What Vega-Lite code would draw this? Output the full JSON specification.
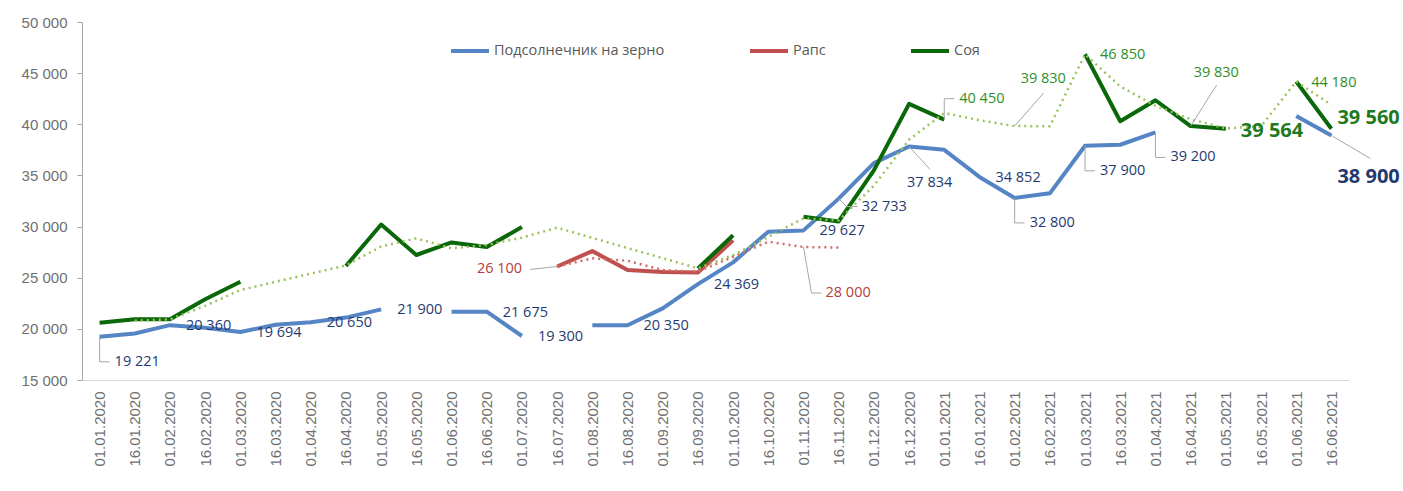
{
  "$schema": "https://vega.github.io/schema/vega-lite/v6.json",
  "width": 1267,
  "height": 358,
  "autosize": {"type": "none"},
  "padding": {"left": 82, "top": 22, "right": 54, "bottom": 111},
  "background": "white",
  "config": {
    "view": {"stroke": null},
    "locale": {"number": {"decimal": ",", "thousands": "\u00a0", "grouping": [3], "currency": ["", "\u00a0₽"]}},
    "text": {"font": "Open Sans", "fontSize": 14.5, "baseline": "middle", "align": "left"}
  },
  "datasets": {
    "main": [
      {"d": "01.01.2020", "s": "Подсолнечник на зерно", "v": 19221},
      {"d": "16.01.2020", "s": "Подсолнечник на зерно", "v": 19550},
      {"d": "01.02.2020", "s": "Подсолнечник на зерно", "v": 20360},
      {"d": "16.02.2020", "s": "Подсолнечник на зерно", "v": 20100},
      {"d": "01.03.2020", "s": "Подсолнечник на зерно", "v": 19694},
      {"d": "16.03.2020", "s": "Подсолнечник на зерно", "v": 20400},
      {"d": "01.04.2020", "s": "Подсолнечник на зерно", "v": 20650},
      {"d": "16.04.2020", "s": "Подсолнечник на зерно", "v": 21100},
      {"d": "01.05.2020", "s": "Подсолнечник на зерно", "v": 21900},
      {"d": "16.05.2020", "s": "Подсолнечник на зерно", "v": null},
      {"d": "01.06.2020", "s": "Подсолнечник на зерно", "v": 21675},
      {"d": "16.06.2020", "s": "Подсолнечник на зерно", "v": 21675},
      {"d": "01.07.2020", "s": "Подсолнечник на зерно", "v": 19300},
      {"d": "16.07.2020", "s": "Подсолнечник на зерно", "v": null},
      {"d": "01.08.2020", "s": "Подсолнечник на зерно", "v": 20350},
      {"d": "16.08.2020", "s": "Подсолнечник на зерно", "v": 20350},
      {"d": "01.09.2020", "s": "Подсолнечник на зерно", "v": 22000},
      {"d": "16.09.2020", "s": "Подсолнечник на зерно", "v": 24369},
      {"d": "01.10.2020", "s": "Подсолнечник на зерно", "v": 26500},
      {"d": "16.10.2020", "s": "Подсолнечник на зерно", "v": 29500},
      {"d": "01.11.2020", "s": "Подсолнечник на зерно", "v": 29627},
      {"d": "16.11.2020", "s": "Подсолнечник на зерно", "v": 32733},
      {"d": "01.12.2020", "s": "Подсолнечник на зерно", "v": 36200},
      {"d": "16.12.2020", "s": "Подсолнечник на зерно", "v": 37834},
      {"d": "01.01.2021", "s": "Подсолнечник на зерно", "v": 37500},
      {"d": "16.01.2021", "s": "Подсолнечник на зерно", "v": 34852},
      {"d": "01.02.2021", "s": "Подсолнечник на зерно", "v": 32800},
      {"d": "16.02.2021", "s": "Подсолнечник на зерно", "v": 33250},
      {"d": "01.03.2021", "s": "Подсолнечник на зерно", "v": 37900},
      {"d": "16.03.2021", "s": "Подсолнечник на зерно", "v": 38000},
      {"d": "01.04.2021", "s": "Подсолнечник на зерно", "v": 39200},
      {"d": "16.04.2021", "s": "Подсолнечник на зерно", "v": null},
      {"d": "01.05.2021", "s": "Подсолнечник на зерно", "v": null},
      {"d": "16.05.2021", "s": "Подсолнечник на зерно", "v": null},
      {"d": "01.06.2021", "s": "Подсолнечник на зерно", "v": 40800},
      {"d": "16.06.2021", "s": "Подсолнечник на зерно", "v": 38900},
      {"d": "16.07.2020", "s": "Рапс", "v": 26100},
      {"d": "01.08.2020", "s": "Рапс", "v": 27600},
      {"d": "16.08.2020", "s": "Рапс", "v": 25750},
      {"d": "01.09.2020", "s": "Рапс", "v": 25550},
      {"d": "16.09.2020", "s": "Рапс", "v": 25500},
      {"d": "01.10.2020", "s": "Рапс", "v": 28650},
      {"d": "01.01.2020", "s": "Соя", "v": 20600},
      {"d": "16.01.2020", "s": "Соя", "v": 20950},
      {"d": "01.02.2020", "s": "Соя", "v": 20950},
      {"d": "16.02.2020", "s": "Соя", "v": 22900},
      {"d": "01.03.2020", "s": "Соя", "v": 24600},
      {"d": "16.03.2020", "s": "Соя", "v": null},
      {"d": "01.04.2020", "s": "Соя", "v": null},
      {"d": "16.04.2020", "s": "Соя", "v": 26150},
      {"d": "01.05.2020", "s": "Соя", "v": 30200},
      {"d": "16.05.2020", "s": "Соя", "v": 27220},
      {"d": "01.06.2020", "s": "Соя", "v": 28450},
      {"d": "16.06.2020", "s": "Соя", "v": 28000},
      {"d": "01.07.2020", "s": "Соя", "v": 29950},
      {"d": "16.07.2020", "s": "Соя", "v": null},
      {"d": "16.09.2020", "s": "Соя", "v": 25900},
      {"d": "01.10.2020", "s": "Соя", "v": 29150},
      {"d": "16.10.2020", "s": "Соя", "v": null},
      {"d": "01.11.2020", "s": "Соя", "v": 30950},
      {"d": "16.11.2020", "s": "Соя", "v": 30500},
      {"d": "01.12.2020", "s": "Соя", "v": 35500},
      {"d": "16.12.2020", "s": "Соя", "v": 42000},
      {"d": "01.01.2021", "s": "Соя", "v": 40450},
      {"d": "16.01.2021", "s": "Соя", "v": null},
      {"d": "01.03.2021", "s": "Соя", "v": 46850},
      {"d": "16.03.2021", "s": "Соя", "v": 40300},
      {"d": "01.04.2021", "s": "Соя", "v": 42350},
      {"d": "16.04.2021", "s": "Соя", "v": 39830},
      {"d": "01.05.2021", "s": "Соя", "v": 39564},
      {"d": "16.05.2021", "s": "Соя", "v": null},
      {"d": "01.06.2021", "s": "Соя", "v": 44180},
      {"d": "16.06.2021", "s": "Соя", "v": 39560}
    ],
    "trend": [
      {"d": "16.07.2020", "s": "Рапс", "v": 26100},
      {"d": "01.08.2020", "s": "Рапс", "v": 26890},
      {"d": "16.08.2020", "s": "Рапс", "v": 26660},
      {"d": "01.09.2020", "s": "Рапс", "v": 25750},
      {"d": "16.09.2020", "s": "Рапс", "v": 25590},
      {"d": "01.10.2020", "s": "Рапс", "v": 27050},
      {"d": "16.10.2020", "s": "Рапс", "v": 28520},
      {"d": "01.11.2020", "s": "Рапс", "v": 28000},
      {"d": "16.11.2020", "s": "Рапс", "v": 27950},
      {"d": "16.01.2020", "s": "Соя", "v": 20800},
      {"d": "01.02.2020", "s": "Соя", "v": 20930},
      {"d": "16.02.2020", "s": "Соя", "v": 22250},
      {"d": "01.03.2020", "s": "Соя", "v": 23800},
      {"d": "16.04.2020", "s": "Соя", "v": 26200},
      {"d": "01.05.2020", "s": "Соя", "v": 28050},
      {"d": "16.05.2020", "s": "Соя", "v": 28850},
      {"d": "01.06.2020", "s": "Соя", "v": 27870},
      {"d": "16.06.2020", "s": "Соя", "v": 28200},
      {"d": "01.07.2020", "s": "Соя", "v": 28920},
      {"d": "16.07.2020", "s": "Соя", "v": 29890},
      {"d": "16.09.2020", "s": "Соя", "v": 25920},
      {"d": "01.10.2020", "s": "Соя", "v": 27200},
      {"d": "16.10.2020", "s": "Соя", "v": 29000},
      {"d": "01.11.2020", "s": "Соя", "v": 30800},
      {"d": "16.11.2020", "s": "Соя", "v": 30600},
      {"d": "01.12.2020", "s": "Соя", "v": 34000},
      {"d": "16.12.2020", "s": "Соя", "v": 38500},
      {"d": "01.01.2021", "s": "Соя", "v": 41100},
      {"d": "16.01.2021", "s": "Соя", "v": 40400},
      {"d": "01.02.2021", "s": "Соя", "v": 39830},
      {"d": "16.02.2021", "s": "Соя", "v": 39800},
      {"d": "01.03.2021", "s": "Соя", "v": 46850},
      {"d": "16.03.2021", "s": "Соя", "v": 43700},
      {"d": "01.04.2021", "s": "Соя", "v": 41800},
      {"d": "16.04.2021", "s": "Соя", "v": 40500},
      {"d": "01.05.2021", "s": "Соя", "v": 39600},
      {"d": "16.05.2021", "s": "Соя", "v": 39800},
      {"d": "01.06.2021", "s": "Соя", "v": 44180},
      {"d": "16.06.2021", "s": "Соя", "v": 41900}
    ]
  },
  "encoding": {
    "x": {
      "field": "d", "type": "ordinal", "title": null,
      "scale": {"type": "point", "padding": 0.5, "domain": ["01.01.2020","16.01.2020","01.02.2020","16.02.2020","01.03.2020","16.03.2020","01.04.2020","16.04.2020","01.05.2020","16.05.2020","01.06.2020","16.06.2020","01.07.2020","16.07.2020","01.08.2020","16.08.2020","01.09.2020","16.09.2020","01.10.2020","16.10.2020","01.11.2020","16.11.2020","01.12.2020","16.12.2020","01.01.2021","16.01.2021","01.02.2021","16.02.2021","01.03.2021","16.03.2021","01.04.2021","16.04.2021","01.05.2021","16.05.2021","01.06.2021","16.06.2021"]},
      "axis": {"labelAngle": -90, "ticks": false, "tickSize": 0, "labelPadding": 11, "domainColor": "#D9D9D9", "domainWidth": 1, "labelFont": "Liberation Sans", "labelFontSize": 15, "labelColor": "#707070", "grid": false}
    },
    "y": {
      "field": "v", "type": "quantitative", "title": null,
      "scale": {"domain": [15000, 50000], "nice": false, "zero": false},
      "axis": {"values": [15000, 20000, 25000, 30000, 35000, 40000, 45000, 50000], "format": ",.0f", "grid": false, "ticks": true, "tickSize": 5, "tickColor": "#A6A6A6", "domainColor": "#A6A6A6", "labelPadding": 10, "labelFont": "Liberation Sans", "labelFontSize": 15, "labelColor": "#707070"}
    }
  },
  "layer": [
    {
      "data": {"name": "main"},
      "mark": {"type": "line", "strokeWidth": 4, "strokeJoin": "round"},
      "encoding": {
        "color": {
          "field": "s", "type": "nominal",
          "scale": {"domain": ["Подсолнечник на зерно", "Рапс", "Соя"], "range": ["#5585C5", "#C0504D", "#0A680A"]},
          "legend": {"title": null, "orient": "none", "legendX": 367, "legendY": 8, "direction": "horizontal", "symbolType": "stroke", "symbolSize": 1444, "symbolStrokeWidth": 4, "labelFont": "Open Sans", "labelFontSize": 14.5, "labelColor": "#595959", "labelOffset": 3, "labelLimit": 0, "columnPadding": 77, "padding": 0}
        }
      }
    },
    {
      "data": {"name": "trend"},
      "transform": [{"filter": {"field": "s", "equal": "Рапс"}}],
      "mark": {"type": "line", "color": "#D46A67", "strokeWidth": 2.5, "strokeDash": [2, 4]},
      "encoding": {}
    },
    {
      "data": {"name": "trend"},
      "transform": [{"filter": {"field": "s", "equal": "Соя"}}],
      "mark": {"type": "line", "color": "#9BC35C", "strokeWidth": 2.5, "strokeDash": [2, 4]},
      "encoding": {}
    },
    {
      "data": {"name": "main"},
      "transform": [{"filter": {"and": [{"field": "s", "equal": "Подсолнечник на зерно"}, {"field": "d", "oneOf": ["01.01.2020", "01.02.2021", "01.03.2021", "01.04.2021"]}]}}],
      "mark": {"type": "rule", "color": "#A6A6A6", "strokeWidth": 1, "y2Offset": 25},
      "encoding": {"y2": {"field": "v"}}
    },
    {
      "data": {"name": "main"},
      "transform": [{"filter": {"and": [{"field": "s", "equal": "Подсолнечник на зерно"}, {"field": "d", "oneOf": ["01.01.2020", "01.02.2021", "01.03.2021", "01.04.2021"]}]}}],
      "mark": {"type": "rule", "color": "#A6A6A6", "strokeWidth": 1, "yOffset": 25, "x2Offset": 10},
      "encoding": {"x2": {"field": "d"}}
    },
    {
      "data": {"name": "main"},
      "transform": [{"filter": {"and": [{"field": "s", "equal": "Соя"}, {"field": "d", "equal": "01.01.2021"}]}}],
      "mark": {"type": "rule", "color": "#A6A6A6", "strokeWidth": 1, "y2Offset": -21},
      "encoding": {"y2": {"field": "v"}}
    },
    {
      "data": {"name": "main"},
      "transform": [{"filter": {"and": [{"field": "s", "equal": "Соя"}, {"field": "d", "equal": "01.01.2021"}]}}],
      "mark": {"type": "rule", "color": "#A6A6A6", "strokeWidth": 1, "yOffset": -21, "x2Offset": 10},
      "encoding": {"x2": {"field": "d"}}
    },
    {
      "data": {"name": "main"},
      "transform": [{"filter": {"and": [{"field": "s", "equal": "Подсолнечник на зерно"}, {"field": "d", "equal": "16.11.2020"}]}}],
      "mark": {"type": "rule", "color": "#A6A6A6", "strokeWidth": 1, "x2Offset": 8, "y2Offset": 8},
      "encoding": {"x2": {"field": "d"}, "y2": {"field": "v"}}
    },
    {
      "data": {"name": "main"},
      "transform": [{"filter": {"and": [{"field": "s", "equal": "Подсолнечник на зерно"}, {"field": "d", "equal": "16.11.2020"}]}}],
      "mark": {"type": "rule", "color": "#A6A6A6", "strokeWidth": 1, "xOffset": 8, "yOffset": 8, "x2Offset": 19, "y2Offset": 8},
      "encoding": {"x2": {"field": "d"}, "y2": {"field": "v"}}
    },
    {
      "data": {"name": "main"},
      "transform": [{"filter": {"and": [{"field": "s", "equal": "Подсолнечник на зерно"}, {"field": "d", "equal": "16.12.2020"}]}}],
      "mark": {"type": "rule", "color": "#A6A6A6", "strokeWidth": 1, "x2Offset": 21, "y2Offset": 23},
      "encoding": {"x2": {"field": "d"}, "y2": {"field": "v"}}
    },
    {
      "data": {"name": "main"},
      "transform": [{"filter": {"and": [{"field": "s", "equal": "Подсолнечник на зерно"}, {"field": "d", "equal": "16.06.2021"}]}}],
      "mark": {"type": "rule", "color": "#A6A6A6", "strokeWidth": 1, "x2Offset": 39, "y2Offset": 23},
      "encoding": {"x2": {"field": "d"}, "y2": {"field": "v"}}
    },
    {
      "data": {"name": "main"},
      "transform": [{"filter": {"and": [{"field": "s", "equal": "Рапс"}, {"field": "d", "equal": "16.07.2020"}]}}],
      "mark": {"type": "rule", "color": "#A6A6A6", "strokeWidth": 1, "x2Offset": -27, "y2Offset": 3},
      "encoding": {"x2": {"field": "d"}, "y2": {"field": "v"}}
    },
    {
      "data": {"name": "trend"},
      "transform": [{"filter": {"and": [{"field": "s", "equal": "Рапс"}, {"field": "d", "equal": "01.11.2020"}]}}],
      "mark": {"type": "rule", "color": "#A6A6A6", "strokeWidth": 1, "x2Offset": 8, "y2Offset": 46},
      "encoding": {"x2": {"field": "d"}, "y2": {"field": "v"}}
    },
    {
      "data": {"name": "trend"},
      "transform": [{"filter": {"and": [{"field": "s", "equal": "Рапс"}, {"field": "d", "equal": "01.11.2020"}]}}],
      "mark": {"type": "rule", "color": "#A6A6A6", "strokeWidth": 1, "xOffset": 8, "yOffset": 46, "x2Offset": 18, "y2Offset": 46},
      "encoding": {"x2": {"field": "d"}, "y2": {"field": "v"}}
    },
    {
      "data": {"name": "trend"},
      "transform": [{"filter": {"and": [{"field": "s", "equal": "Соя"}, {"field": "d", "equal": "01.02.2021"}]}}],
      "mark": {"type": "rule", "color": "#A6A6A6", "strokeWidth": 1, "x2Offset": 29, "y2Offset": -33},
      "encoding": {"x2": {"field": "d"}, "y2": {"field": "v"}}
    },
    {
      "data": {"name": "main"},
      "transform": [{"filter": {"and": [{"field": "s", "equal": "Соя"}, {"field": "d", "equal": "16.04.2021"}]}}],
      "mark": {"type": "rule", "color": "#A6A6A6", "strokeWidth": 1, "x2Offset": 26, "y2Offset": -41},
      "encoding": {"x2": {"field": "d"}, "y2": {"field": "v"}}
    },
    {
      "data": {"name": "main"},
      "transform": [{"filter": {"and": [{"field": "s", "equal": "Подсолнечник на зерно"}, {"field": "d", "oneOf": ["01.02.2020", "01.03.2020", "01.04.2020", "01.05.2020", "16.06.2020", "01.07.2020", "16.08.2020", "16.09.2020", "01.11.2020", "16.01.2021"]}]}}],
      "mark": {"type": "text", "dx": 16, "dy": 1, "color": "#1F3A70"},
      "encoding": {"text": {"field": "v", "type": "quantitative", "format": ","}}
    },
    {
      "data": {"name": "main"},
      "transform": [{"filter": {"and": [{"field": "s", "equal": "Подсолнечник на зерно"}, {"field": "d", "oneOf": ["01.01.2020", "01.02.2021", "01.03.2021", "01.04.2021"]}]}}],
      "mark": {"type": "text", "dx": 15, "dy": 25, "color": "#1F3A70"},
      "encoding": {"text": {"field": "v", "type": "quantitative", "format": ","}}
    },
    {
      "data": {"name": "main"},
      "transform": [{"filter": {"and": [{"field": "s", "equal": "Подсолнечник на зерно"}, {"field": "d", "equal": "16.11.2020"}]}}],
      "mark": {"type": "text", "dx": 23, "dy": 8, "color": "#1F3A70"},
      "encoding": {"text": {"field": "v", "type": "quantitative", "format": ","}}
    },
    {
      "data": {"name": "main"},
      "transform": [{"filter": {"and": [{"field": "s", "equal": "Подсолнечник на зерно"}, {"field": "d", "equal": "16.12.2020"}]}}],
      "mark": {"type": "text", "dx": -2, "dy": 37, "color": "#1F3A70"},
      "encoding": {"text": {"field": "v", "type": "quantitative", "format": ","}}
    },
    {
      "data": {"name": "main"},
      "transform": [{"filter": {"and": [{"field": "s", "equal": "Подсолнечник на зерно"}, {"field": "d", "equal": "16.06.2021"}]}}],
      "mark": {"type": "text", "dx": 6, "dy": 41, "color": "#1F3A70", "fontSize": 20, "fontWeight": "bold"},
      "encoding": {"text": {"field": "v", "type": "quantitative", "format": ","}}
    },
    {
      "data": {"name": "main"},
      "transform": [{"filter": {"and": [{"field": "s", "equal": "Рапс"}, {"field": "d", "equal": "16.07.2020"}]}}],
      "mark": {"type": "text", "align": "right", "dx": -35, "dy": 3, "color": "#B5403C"},
      "encoding": {"text": {"field": "v", "type": "quantitative", "format": ","}}
    },
    {
      "data": {"name": "trend"},
      "transform": [{"filter": {"and": [{"field": "s", "equal": "Рапс"}, {"field": "d", "equal": "01.11.2020"}]}}],
      "mark": {"type": "text", "dx": 22, "dy": 46, "color": "#B5403C"},
      "encoding": {"text": {"field": "v", "type": "quantitative", "format": ","}}
    },
    {
      "data": {"name": "main"},
      "transform": [{"filter": {"and": [{"field": "s", "equal": "Соя"}, {"field": "d", "oneOf": ["01.03.2021", "01.06.2021"]}]}}],
      "mark": {"type": "text", "dx": 15, "dy": 1, "color": "#2F8F2A"},
      "encoding": {"text": {"field": "v", "type": "quantitative", "format": ","}}
    },
    {
      "data": {"name": "main"},
      "transform": [{"filter": {"and": [{"field": "s", "equal": "Соя"}, {"field": "d", "equal": "01.01.2021"}]}}],
      "mark": {"type": "text", "dx": 15, "dy": -21, "color": "#2F8F2A"},
      "encoding": {"text": {"field": "v", "type": "quantitative", "format": ","}}
    },
    {
      "data": {"name": "trend"},
      "transform": [{"filter": {"and": [{"field": "s", "equal": "Соя"}, {"field": "d", "equal": "01.02.2021"}]}}],
      "mark": {"type": "text", "dx": 6, "dy": -47, "color": "#2F8F2A"},
      "encoding": {"text": {"field": "v", "type": "quantitative", "format": ","}}
    },
    {
      "data": {"name": "main"},
      "transform": [{"filter": {"and": [{"field": "s", "equal": "Соя"}, {"field": "d", "equal": "16.04.2021"}]}}],
      "mark": {"type": "text", "dx": 3, "dy": -53, "color": "#2F8F2A"},
      "encoding": {"text": {"field": "v", "type": "quantitative", "format": ","}}
    },
    {
      "data": {"name": "main"},
      "transform": [{"filter": {"and": [{"field": "s", "equal": "Соя"}, {"field": "d", "equal": "01.05.2021"}]}}],
      "mark": {"type": "text", "dx": 15, "dy": 2, "color": "#1F7A1F", "fontSize": 20, "fontWeight": "bold"},
      "encoding": {"text": {"field": "v", "type": "quantitative", "format": ","}}
    },
    {
      "data": {"name": "main"},
      "transform": [{"filter": {"and": [{"field": "s", "equal": "Соя"}, {"field": "d", "equal": "16.06.2021"}]}}],
      "mark": {"type": "text", "dx": 6, "dy": -11, "color": "#1F7A1F", "fontSize": 20, "fontWeight": "bold"},
      "encoding": {"text": {"field": "v", "type": "quantitative", "format": ","}}
    }
  ]
}
